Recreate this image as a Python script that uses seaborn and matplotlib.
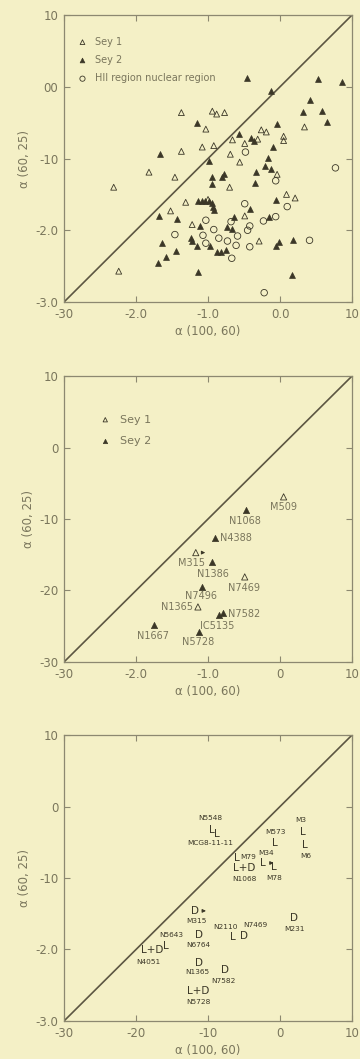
"""Spectral index diagrams a(60,25) vs a(100,60): three stacked panels."""
import numpy as np
import pandas as pd
import seaborn as sns
import matplotlib
matplotlib.use("Agg")
import matplotlib.pyplot as plt

# ---------------------------------------------------------------------------
# Data
# ---------------------------------------------------------------------------
# Panel 1 - full sample
sey1_x = [-1.37, -0.94, -0.88, -0.77, -1.03, -1.08, -0.92, -1.37, -0.69, -0.66,
          -0.49, -0.26, -0.19, 0.05, 0.05, 0.34, -0.56, -1.82, -1.46, -0.04,
          -0.31, -2.31, -0.70, -1.31, -1.52, -1.00, 0.09, 0.21, -0.49, -1.22,
          -0.29, -2.24]
sey1_y = [-0.36, -0.34, -0.38, -0.36, -0.59, -0.84, -0.82, -0.90, -0.94, -0.74,
          -0.79, -0.60, -0.63, -0.69, -0.75, -0.56, -1.05, -1.19, -1.26, -1.22,
          -0.73, -1.40, -1.40, -1.61, -1.73, -1.57, -1.50, -1.55, -1.80, -1.92,
          -2.15, -2.57]

sey2_x = [-0.46, -0.13, 0.53, 0.86, 0.42, 0.32, 0.59, 0.65, -1.15, -0.04,
          -0.57, -0.40, -0.36, -0.10, -1.67, -0.98, -0.17, -0.21, -0.13, -0.34,
          -0.94, -0.94, -0.78, -0.81, -0.35, -1.14, -1.09, -1.04, -0.98, -0.95,
          -0.93, -0.92, -0.41, -0.06, -1.68, -1.43, -0.64, -0.15, -1.11, -0.73,
          -0.67, -1.64, -1.45, -1.58, -1.70, -1.24, -1.22, -1.15, -0.97, -0.88,
          -0.82, -0.75, -1.14, -0.02, -0.06, 0.18, 0.16]
sey2_y = [0.12, -0.06, 0.11, 0.06, -0.18, -0.35, -0.34, -0.49, -0.50, -0.52,
          -0.66, -0.72, -0.76, -0.84, -0.93, -1.03, -0.99, -1.11, -1.14, -1.19,
          -1.26, -1.35, -1.21, -1.26, -1.34, -1.59, -1.59, -1.59, -1.59, -1.62,
          -1.68, -1.72, -1.70, -1.58, -1.80, -1.84, -1.81, -1.82, -1.94, -1.96,
          -1.98, -2.18, -2.29, -2.37, -2.45, -2.11, -2.15, -2.22, -2.22, -2.30,
          -2.30, -2.28, -2.58, -2.16, -2.22, -2.14, -2.63]

hii_x = [0.77, -0.48, -0.06, 0.10, -0.49, -1.03, -0.92, -1.46, -1.07, -1.03,
         -0.85, -0.73, -0.61, -0.59, -0.42, -0.45, -0.42, -0.23, -0.06, -0.67,
         0.41, -0.22, -0.68]
hii_y = [-1.13, -0.91, -1.31, -1.67, -1.63, -1.86, -1.99, -2.06, -2.07, -2.18,
         -2.11, -2.15, -2.21, -2.08, -2.23, -2.00, -1.94, -1.87, -1.81, -2.39,
         -2.14, -2.87, -1.88]

# Panel 2 - named Seyferts
names2 = ["M509", "N1068", "N4388", "M315", "N1386", "N7469", "N7496",
          "N1365", "N7582", "IC5135", "N1667", "N5728"]
types2 = ["Sey 1", "Sey 2", "Sey 2", "Sey 1", "Sey 2", "Sey 1", "Sey 2",
          "Sey 1", "Sey 2", "Sey 2", "Sey 2", "Sey 2"]
x2 = [0.05, -0.47, -0.90, -1.17, -0.94, -0.49, -1.09, -1.14, -0.79, -0.85, -1.75, -1.12]
y2 = [-0.69, -0.87, -1.27, -1.47, -1.60, -1.81, -1.95, -2.23, -2.31, -2.34, -2.48, -2.58]

# Panel 3 - line (L) / disk (D) classification
names3 = ["N5548", "MCG8-11-11", "M3", "M6", "M573", "M79", "M34", "N1068",
          "M78", "M315", "N2110", "N7469", "M231", "N6764", "N5643", "N4051",
          "N1365", "N7582", "N5728"]
class3 = ["L", "L", "L", "L", "L", "L", "L", "L+D", "L", "D", "L", "D", "D",
          "D", "L", "L+D", "D", "D", "L+D"]
x3 = [-0.95, -0.87, 0.32, 0.35, -0.07, -0.60, -0.24, -0.50, -0.09, -1.18,
      -0.65, -0.50, 0.20, -1.13, -1.58, -1.78, -1.13, -0.77, -1.13]
y3 = [-0.33, -0.38, -0.35, -0.54, -0.51, -0.72, -0.79, -0.86, -0.84, -1.46,
      -1.83, -1.81, -1.56, -1.80, -1.95, -2.01, -2.19, -2.29, -2.58]

# tick label strings as printed on the plate
xt1 = ["-30", "-2.0", "-1.0", "0.0", "10"]
yt1 = ["-3.0", "-2.0", "-10", "00", "10"]
xt2 = ["-30", "-2.0", "-1.0", "0", "10"]
yt2 = ["-30", "-20", "-10", "0", "10"]
xt3 = ["-30", "-20", "-10", "0", "10"]
yt3 = ["-3.0", "-2.0", "-10", "0", "10"]

# label offsets in pixels (dx right, dy down) and alignment
off2 = {"M509": (0, 10, "center"), "N1068": (-1, 11, "center"),
        "N4388": (5, 0, "left"), "M315": (-4, 10, "center"),
        "N1386": (1, 12, "center"), "N7469": (-1, 11, "center"),
        "N7496": (-1, 9, "center"), "N1365": (-5, 0, "right"),
        "N7582": (5, 1, "left"), "IC5135": (-2, 11, "center"),
        "N1667": (-1, 11, "center"), "N5728": (-1, 10, "center")}
off3 = {"N5548": (-1, -12, "center"), "MCG8-11-11": (-7, 9, "center"),
        "M3": (-2, -12, "center"), "M6": (1, 11, "center"),
        "M573": (0, -11, "center"), "M79": (3, -1, "left"),
        "M34": (3, -10, "center"), "N1068": (0, 11, "center"),
        "M78": (1, 11, "center"), "M315": (1, 10, "center"),
        "N2110": (-8, -10, "center"), "N7469": (11, -11, "center"),
        "M231": (0, 11, "center"), "N6764": (0, 10, "center"),
        "N5643": (5, -11, "center"), "N4051": (-3, 12, "center"),
        "N1365": (-1, 9, "center"), "N7582": (-1, 11, "center"),
        "N5728": (0, 11, "center")}

BG = "#f4f0c6"
INK = "#3b3727"
TXT = "#7a765c"
SPINE = "#8c8870"

sns.set_style("ticks")
plt.rcParams["font.family"] = ["DejaVu Sans"]


def frame(ax, xt, yt):
    ax.set_xlim(-3, 1)
    ax.set_ylim(-3, 1)
    ax.set_facecolor(BG)
    ax.plot([-3, 1], [-3, 1], color="#5c5642", lw=1.2, zorder=1)
    ax.set_xticks([-3, -2, -1, 0, 1])
    ax.set_yticks([-3, -2, -1, 0, 1])
    ax.set_xticklabels(xt)
    ax.set_yticklabels(yt)
    ax.tick_params(direction="in", top=True, right=True, length=4, width=0.8,
                   color=SPINE, labelcolor=TXT, labelsize=8.5, pad=4)
    for s in ax.spines.values():
        s.set_color(SPINE)
        s.set_linewidth(0.9)


def axis_labels(ax):
    ax.set_xlabel("α (100, 60)", color=TXT, fontsize=8.5, labelpad=3)
    ax.set_ylabel("α (60, 25)", color=TXT, fontsize=8.5, labelpad=3)


fig = plt.figure(figsize=(3.6, 10.59), dpi=100)
fig.patch.set_facecolor(BG)

# ---------------------------------------------------------------------------
# Panel 1
# ---------------------------------------------------------------------------
ax1 = fig.add_axes([0.1778, 0.7148, 0.8, 0.271])
frame(ax1, xt1, yt1)
sns.scatterplot(x=sey1_x, y=sey1_y, ax=ax1, marker="^", s=18,
                facecolor="none", edgecolor=INK, linewidth=0.6, label="Sey 1")
sns.scatterplot(x=sey2_x, y=sey2_y, ax=ax1, marker="^", s=18,
                color=INK, edgecolor=INK, linewidth=0.5, label="Sey 2")
sns.scatterplot(x=hii_x, y=hii_y, ax=ax1, marker="o", s=22,
                facecolor="none", edgecolor=INK, linewidth=0.6,
                label="HII region nuclear region")
axis_labels(ax1)
ax1.legend(loc="upper left", bbox_to_anchor=(0.0, 0.955), frameon=False,
           fontsize=7, labelcolor=TXT, handletextpad=0.3, markerscale=0.8,
           labelspacing=0.85)

# ---------------------------------------------------------------------------
# Panel 2
# ---------------------------------------------------------------------------
ax2 = fig.add_axes([0.1778, 0.3749, 0.8, 0.270])
frame(ax2, xt2, yt2)
df2 = pd.DataFrame({"x": x2, "y": y2, "name": names2, "type": types2})
d1 = df2[df2["type"] == "Sey 1"]
d2 = df2[df2["type"] == "Sey 2"]
sns.scatterplot(data=d1, x="x", y="y", ax=ax2, marker="^", s=20,
                facecolor="none", edgecolor=INK, linewidth=0.6, label="Sey 1")
sns.scatterplot(data=d2, x="x", y="y", ax=ax2, marker="^", s=20,
                color=INK, edgecolor=INK, linewidth=0.5, label="Sey 2")
axis_labels(ax2)
ax2.legend(loc="upper left", bbox_to_anchor=(0.07, 0.9), frameon=False,
           fontsize=8, labelcolor=TXT, handletextpad=0.3, markerscale=0.7,
           labelspacing=1.0)
for _, r in df2.iterrows():
    dx, dy, ha = off2[r["name"]]
    ax2.annotate(r["name"], (r["x"], r["y"]), xytext=(dx, -dy),
                 textcoords="offset pixels", ha=ha, va="center",
                 fontsize=7, color=TXT)
m = df2[df2["name"] == "M315"].iloc[0]
ax2.annotate("", xy=(m["x"] + 0.17, m["y"]), xytext=(m["x"] + 0.05, m["y"]),
             arrowprops=dict(arrowstyle="-|>", color=INK, lw=0.7,
                             mutation_scale=5))

# ---------------------------------------------------------------------------
# Panel 3
# ---------------------------------------------------------------------------
ax3 = fig.add_axes([0.1778, 0.0359, 0.8, 0.270])
frame(ax3, xt3, yt3)
axis_labels(ax3)
for n, c, x, y in zip(names3, class3, x3, y3):
    ax3.text(x, y, c, ha="center", va="center", fontsize=7.5, color=INK)
    dx, dy, ha = off3[n]
    ax3.annotate(n, (x, y), xytext=(dx, -dy), textcoords="offset pixels",
                 ha=ha, va="center", fontsize=5.3, color=INK)
for n in ["M34", "M315"]:
    i = names3.index(n)
    ax3.annotate("", xy=(x3[i] + 0.19, y3[i]), xytext=(x3[i] + 0.06, y3[i]),
                 arrowprops=dict(arrowstyle="-|>", color=INK, lw=0.7,
                                 mutation_scale=5))

fig.savefig("out.png", dpi=100, facecolor=BG)
